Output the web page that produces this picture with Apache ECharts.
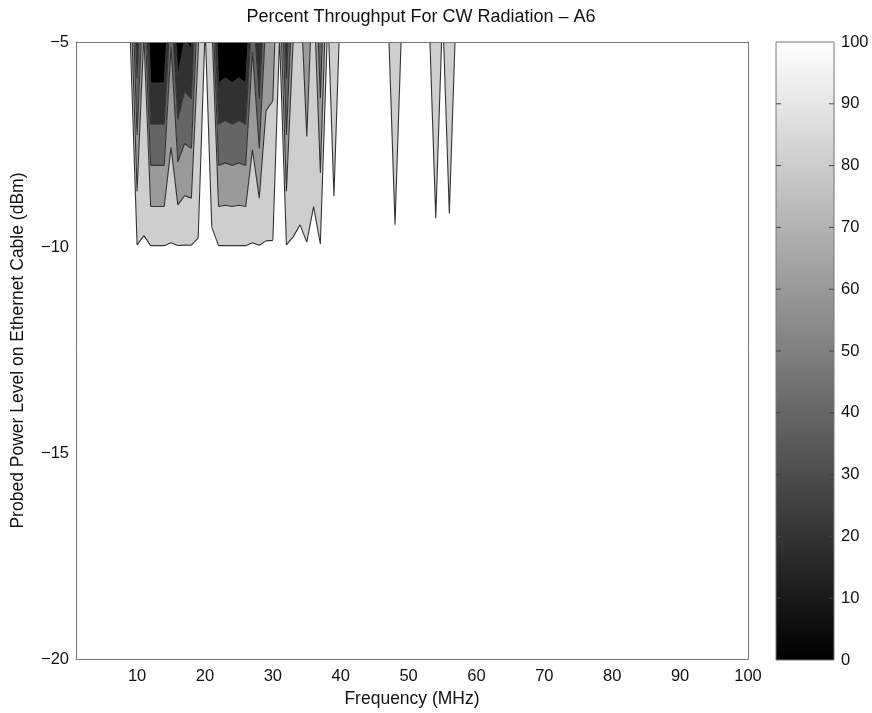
<!DOCTYPE html>
<html><head><meta charset="utf-8">
<script src="https://cdn.jsdelivr.net/npm/echarts@6/dist/echarts.min.js"></script>
<style>html,body{margin:0;padding:0;background:#fff}#c{width:872px;height:713px}</style>
</head><body><div id="c"></div>
<script>
// ---- data ----
const frequencies = [
  1,2,3,4,5,6,7,8,9,10,
  11,12,13,14,15,16,17,18,19,20,
  21,22,23,24,25,26,27,28,29,30,
  31,32,33,34,35,36,37,38,39,40,
  41,42,43,44,45,46,47,48,49,50,
  51,52,53,54,55,56,57,58,59,60,
  61,62,63,64,65,66,67,68,69,70,
  71,72,73,74,75,76,77,78,79,80,
  81,82,83,84,85,86,87,88,89,90,
  91,92,93,94,95,96,97,98,99,100];
const powerLevels = [-20, -15, -10, -5];
const throughputAtMinus20 = [
  100,100,100,100,100,100,100,100,100,100, 100,100,100,100,100,100,100,100,100,100,
  100,100,100,100,100,100,100,100,100,100, 100,100,100,100,100,100,100,100,100,100,
  100,100,100,100,100,100,100,100,100,100, 100,100,100,100,100,100,100,100,100,100,
  100,100,100,100,100,100,100,100,100,100, 100,100,100,100,100,100,100,100,100,100,
  100,100,100,100,100,100,100,100,100,100, 100,100,100,100,100,100,100,100,100,100];
const throughputAtMinus15 = [
  100,100,100,100,100,100,100,100,100,100, 100,100,100,100,100,100,100,100,100,100,
  100,100,100,100,100,100,100,100,100,100, 100,100,100,100,100,100,100,100,100,100,
  100,100,100,100,100,100,100,100,100,100, 100,100,100,100,100,100,100,100,100,100,
  100,100,100,100,100,100,100,100,100,100, 100,100,100,100,100,100,100,100,100,100,
  100,100,100,100,100,100,100,100,100,100, 100,100,100,100,100,100,100,100,100,100];
const throughputAtMinus10 = [
  100,100,100,100,100,100,100,100,100,100, 100,100,100,100,100,100,100,100,100,100,
  100,100,100,100,100,100,100,100,100,100, 100,100,100,100,100,100,100,100,100,100,
  100,100,100,100,100,100,100,100,100,100, 100,100,100,100,100,100,100,100,100,100,
  100,100,100,100,100,100,100,100,100,100, 100,100,100,100,100,100,100,100,100,100,
  100,100,100,100,100,100,100,100,100,100, 100,100,100,100,100,100,100,100,100,100];
const throughputAtMinus5 = [
  100,100,100,100,100,100,100,100,100,27,
  83,0,0,0,59,4,21,17,79,100,
  90,0,3,0,3,0,58,17,70,72,
  100,27,81,91,63,95,45,100,96,100,
  100,100,100,100,100,100,100,91,100,100,
  100,100,100,93,100,94,100,100,100,100,
  100,100,100,100,100,100,100,100,100,100,
  100,100,100,100,100,100,100,100,100,100,
  100,100,100,100,100,100,100,100,100,100,
  100,100,100,100,100,100,100,100,100,100];
const contourLevels = [20, 40, 60, 80, 99];
const bandColors = ['#000000', '#313131', '#656565', '#9a9a9a', '#cecece', '#ffffff'];
const xTickValues = [10, 20, 30, 40, 50, 60, 70, 80, 90, 100];
const colorbarTickValues = [10, 20, 30, 40, 50, 60, 70, 80, 90];

// ---- grid helpers ----
const rows = [throughputAtMinus20, throughputAtMinus15, throughputAtMinus10, throughputAtMinus5];
function val(i, j) { return rows[j][i]; }

function bandPath(lo, hi, api) {
  let d = '';
  for (let j = 0; j < powerLevels.length - 1; j++) {
    for (let i = 0; i < frequencies.length - 1; i++) {
      const corners = [[i, j + 1], [i + 1, j + 1], [i + 1, j], [i, j]];
      const pts = [];
      for (let k = 0; k < 4; k++) {
        const a = corners[k], b = corners[(k + 1) % 4];
        const va = val(a[0], a[1]), vb = val(b[0], b[1]);
        const xa = frequencies[a[0]], ya = powerLevels[a[1]];
        const xb = frequencies[b[0]], yb = powerLevels[b[1]];
        if (va >= lo && va < hi) pts.push([xa, ya]);
        const ts = [];
        [lo, hi].forEach(L => {
          if (!isFinite(L)) return;
          if ((va < L && vb >= L) || (va >= L && vb < L)) ts.push((L - va) / (vb - va));
        });
        ts.sort((p, q) => p - q);
        ts.forEach(t => pts.push([xa + t * (xb - xa), ya + t * (yb - ya)]));
      }
      if (pts.length >= 3) {
        pts.forEach((p, n) => {
          const c = api.coord(p);
          d += (n === 0 ? 'M' : 'L') + c[0].toFixed(2) + ' ' + c[1].toFixed(2) + ' ';
        });
        d += 'Z ';
      }
    }
  }
  return d;
}

function linePath(L, api) {
  let d = '';
  for (let j = 0; j < powerLevels.length - 1; j++) {
    for (let i = 0; i < frequencies.length - 1; i++) {
      const corners = [[i, j + 1], [i + 1, j + 1], [i + 1, j], [i, j]];
      const cs = [];
      for (let k = 0; k < 4; k++) {
        const a = corners[k], b = corners[(k + 1) % 4];
        const va = val(a[0], a[1]), vb = val(b[0], b[1]);
        if ((va < L && vb >= L) || (va >= L && vb < L)) {
          const t = (L - va) / (vb - va);
          const xa = frequencies[a[0]], ya = powerLevels[a[1]];
          const xb = frequencies[b[0]], yb = powerLevels[b[1]];
          cs.push([xa + t * (xb - xa), ya + t * (yb - ya)]);
        }
      }
      const seg = (p, q) => {
        const c1 = api.coord(p), c2 = api.coord(q);
        d += 'M' + c1[0].toFixed(2) + ' ' + c1[1].toFixed(2) + ' L' + c2[0].toFixed(2) + ' ' + c2[1].toFixed(2) + ' ';
      };
      if (cs.length === 2) seg(cs[0], cs[1]);
      else if (cs.length === 4) { seg(cs[0], cs[1]); seg(cs[2], cs[3]); }
    }
  }
  return d;
}

const chart = echarts.init(document.getElementById('c'), null, { renderer: 'canvas' });
const font = 'Liberation Sans, Arial, Helvetica, sans-serif';
const minusFmt = v => (v < 0 ? '\u2212' + Math.abs(v) : String(v));

chart.setOption({
  backgroundColor: '#ffffff',
  animation: false,
  title: {
    text: 'Percent Throughput For CW Radiation \u2013 A6',
    left: 416, top: 3, textAlign: 'center',
    textStyle: { fontFamily: font, fontSize: 18, fontWeight: 'normal', color: '#111' }
  },
  grid: [
    { left: 76, top: 42, width: 672, height: 618 },
    { left: 776, top: 42, width: 58, height: 618 }
  ],
  xAxis: [
    { type: 'value', gridIndex: 0, min: 1, max: 100, z: 10,
      name: 'Frequency (MHz)', nameLocation: 'middle', nameGap: 29,
      nameTextStyle: { fontFamily: font, fontSize: 17.5, color: '#111' },
      axisLine: { show: true, lineStyle: { color: '#777', width: 1 } },
      axisTick: { show: false },
      splitLine: { show: false },
      axisLabel: { customValues: xTickValues, margin: 9, fontFamily: font, fontSize: 16.5, color: '#111' } },
    { type: 'value', gridIndex: 0, min: 1, max: 100, position: 'top', z: 10,
      axisLine: { show: true, onZero: false, lineStyle: { color: '#777', width: 1 } },
      axisTick: { show: false }, axisLabel: { show: false }, splitLine: { show: false } },
    { type: 'value', gridIndex: 1, min: 0, max: 1, show: false }
  ],
  yAxis: [
    { type: 'value', gridIndex: 0, min: -20, max: -5, interval: 5, z: 10,
      name: 'Probed Power Level on Ethernet Cable (dBm)', nameLocation: 'middle', nameGap: 49,
      nameTextStyle: { fontFamily: font, fontSize: 17.5, color: '#111' },
      axisLine: { show: true, onZero: false, lineStyle: { color: '#777', width: 1 } },
      axisTick: { show: false }, splitLine: { show: false },
      axisLabel: { formatter: minusFmt, margin: 7, fontFamily: font, fontSize: 16.5, color: '#111' } },
    { type: 'value', gridIndex: 0, min: -20, max: -5, position: 'right', z: 10,
      axisLine: { show: true, onZero: false, lineStyle: { color: '#777', width: 1 } },
      axisTick: { show: false }, axisLabel: { show: false }, splitLine: { show: false } },
    { type: 'value', gridIndex: 1, min: 0, max: 100, interval: 10, position: 'right',
      axisLine: { show: false }, axisTick: { show: false }, splitLine: { show: false },
      axisLabel: { margin: 7, fontFamily: font, fontSize: 16.5, color: '#111' } }
  ],
  series: [
    {
      type: 'custom', name: 'throughput', xAxisIndex: 0, yAxisIndex: 0,
      data: [[50, -12]], silent: true,
      renderItem: function (params, api) {
        const children = [];
        const bounds = [-Infinity].concat(contourLevels).concat([Infinity]);
        for (let b = 0; b < bandColors.length; b++) {
          const d = bandPath(bounds[b], bounds[b + 1], api);
          if (d) children.push({ type: 'path', shape: { pathData: d }, style: { fill: bandColors[b], stroke: null } });
        }
        contourLevels.forEach(L => {
          const d = linePath(L, api);
          if (d) children.push({ type: 'path', shape: { pathData: d }, style: { fill: null, stroke: '#333', lineWidth: 1.1 } });
        });
        return { type: 'group', children: children };
      }
    },
    {
      type: 'custom', name: 'colorbar', xAxisIndex: 2, yAxisIndex: 2,
      data: [[0.5, 50]], silent: true,
      renderItem: function (params, api) {
        const p0 = api.coord([0, 0]), p1 = api.coord([1, 100]);
        const children = [{
          type: 'rect',
          shape: { x: p0[0], y: p1[1], width: p1[0] - p0[0], height: p0[1] - p1[1] },
          style: {
            fill: new echarts.graphic.LinearGradient(0, 1, 0, 0, [
              { offset: 0, color: '#000000' }, { offset: 1, color: '#ffffff' }
            ]),
            stroke: '#777', lineWidth: 1
          }
        }];
        colorbarTickValues.forEach(v => {
          const l = api.coord([0, v]), r = api.coord([1, v]);
          children.push({ type: 'line', shape: { x1: l[0], y1: l[1], x2: l[0] + 5, y2: l[1] }, style: { stroke: '#444', lineWidth: 1 } });
          children.push({ type: 'line', shape: { x1: r[0] - 5, y1: r[1], x2: r[0], y2: r[1] }, style: { stroke: '#444', lineWidth: 1 } });
        });
        return { type: 'group', children: children };
      }
    }
  ]
});
</script>
</body></html>
